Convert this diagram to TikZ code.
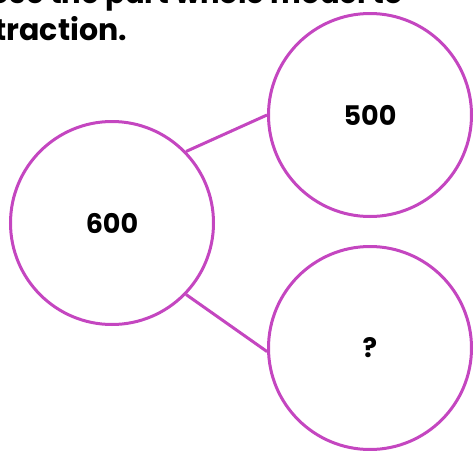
\documentclass[tikz,border=0pt]{standalone}
\usepackage{fontspec}
\setmainfont{Poppins}
\usepackage{xcolor}

\definecolor{bondpink}{RGB}{196,70,192}

\tikzset{
  part/.style={draw=bondpink, line width=3pt, circle, minimum size=203pt, inner sep=0pt, font=\fontsize{27}{30}\selectfont\bfseries},
  bond/.style={draw=bondpink, line width=3pt}
}

\begin{document}
\begin{tikzpicture}[x=1pt,y=-1pt]
                \useasboundingbox (0,0) rectangle (474,450);
                \begin{scope}
                \clip (0,0) rectangle (474,450);
                \node [anchor=base west, font=\fontsize{29}{32}\selectfont\bfseries] (intro) at (-14,3) {Use the part whole model to};
                \end{scope}
                \node [anchor=base west, font=\fontsize{30}{33}\selectfont\bfseries] (tail) at (-9,40) {traction.};

                \node [part] (whole) at (112,223) {600};
                \node [part] (top) at (370,115) {500};
                \node [part] (bottom) at (370,348) {?};

                \draw[bond] (whole.44) -- (top.180);
                \draw[bond] (whole.-44) -- (bottom.182);
               
\end{tikzpicture}
\end{document}
